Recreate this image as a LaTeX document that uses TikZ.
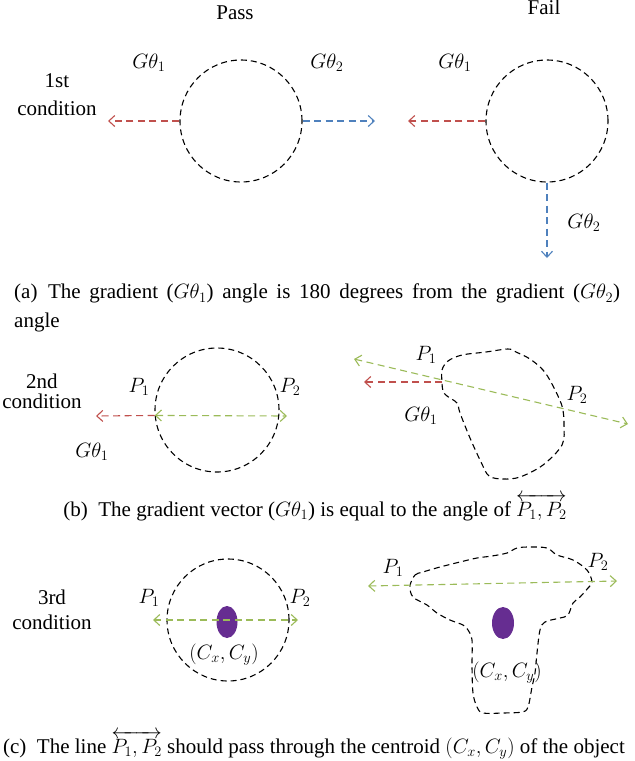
\documentclass[tikz,border=0pt]{standalone}
\usepackage{amsmath}
\usepackage{fontspec}
\setmainfont{Liberation Serif}
\usetikzlibrary{arrows.meta,shapes.geometric}
\definecolor{gred}{HTML}{C0504D}
\definecolor{gblue}{HTML}{4F81BD}
\definecolor{ggreen}{HTML}{9BBB59}
\definecolor{cpurple}{HTML}{662D91}
\tikzset{
  outline/.style={draw=black, dash pattern=on 6pt off 4pt, line width=1.1pt},
  ring/.style={outline, circle, minimum size=122pt, inner sep=0pt},
  vec/.style={dash pattern=on 7pt off 4.5pt, line width=1.1pt, -{Straight Barb[length=6pt,width=11pt]}},
  bivec/.style={vec, {Straight Barb[length=6pt,width=11pt]}-{Straight Barb[length=6pt,width=11pt]}},
  lbl/.style={font=\fontsize{21}{24}\selectfont, inner sep=0pt},
  cond/.style={inner sep=0pt, align=center},
  captext/.style={font=\fontsize{21}{29}\selectfont, inner sep=0pt},
  blob/.style={outline, smooth cycle, tension=0.55},
  centroid/.style={ellipse, fill=cpurple, draw=none, minimum width=21pt, minimum height=32pt, inner sep=0pt}
}
\begin{document}
\begin{tikzpicture}[x=1pt,y=-1pt]
\useasboundingbox (0,0) rectangle (635,761);

% ---------- panel (a)
\node[lbl] (pass) at (235,13) {Pass};
\node[lbl] (fail) at (544,7) {Fail};
\node[cond, font=\fontsize{21}{28}\selectfont] (cond1) at (57,95) {1st\\condition};

\node[ring] (c1) at (241,121) {};
\node[ring] (c2) at (547,121) {};
\coordinate (r1) at (108,121);
\coordinate (b1) at (375,121);
\coordinate (r2) at (408,121);
\coordinate (b2) at (547,258);
\draw[vec, gred] (c1.west) -- (r1);
\draw[vec, gblue] (c1.east) -- (b1);
\draw[vec, gred] (c2.west) -- (r2);
\draw[vec, gblue] (c2.south) -- (b2);
\node[lbl] (ga1) at (149,63) {$G\theta_1$};
\node[lbl] (ga2) at (327,63) {$G\theta_2$};
\node[lbl] (ga3) at (455,63) {$G\theta_1$};
\node[lbl] (ga4) at (584,223) {$G\theta_2$};

\node[captext, anchor=north west, text width=606pt, align=justify] (capa) at (14,284)
  {(a)\enspace The gradient ($G\theta_1$) angle is 180 degrees from the gradient ($G\theta_2$)\linebreak angle};

% ---------- panel (b)
\node[cond, font=\fontsize{21}{20}\selectfont] (cond2) at (42,391) {2nd\\condition};
\node[ring, minimum size=124pt] (c3) at (217,410) {};
\coordinate (q1) at (c3.185);
\coordinate (r3) at (96,416);
\coordinate (g3) at (287,416);
\draw[vec, gred] (q1) -- (r3);
\draw[bivec, ggreen] (q1) -- (g3);
\node[lbl] (pb1) at (139,387) {$P_1$};
\node[lbl] (pb2) at (290,387) {$P_2$};
\node[lbl] (gb1) at (92,452) {$G\theta_1$};

\draw[blob] plot coordinates {(442,382) (442,370) (448,361) (462,355) (486,352) (508,349) (516,352) (530,359) (543,370) (552,384) (562,406) (564,425) (562,445) (543,465) (520,477) (503,479) (489,476) (481,462) (470,438) (460,413) (457,403) (447,396) (443,391)};
\coordinate (bp1) at (442,382);
\coordinate (r4) at (364,382);
\coordinate (gl1) at (354,359);
\coordinate (gl2) at (628,424);
\draw[vec, gred] (bp1) -- (r4);
\draw[bivec, ggreen] (gl1) -- (gl2);
\node[lbl] (pb3) at (426,355) {$P_1$};
\node[lbl] (pb4) at (577,395) {$P_2$};
\node[lbl] (gb2) at (421,416) {$G\theta_1$};

\node[captext, anchor=base] (capb) at (315,516)
  {(b)\enspace The gradient vector ($G\theta_1$) is equal to the angle of $\overleftrightarrow{P_1,P_2}$};

% ---------- panel (c)
\node[cond, font=\fontsize{21}{25}\selectfont] (cond3) at (52,610) {3rd\\condition};
\node[ring] (c4) at (228,620) {};
\node[centroid] (ct1) at (227,622) {};
\coordinate (h1) at (153,620);
\coordinate (h2) at (298,620);
\draw[bivec, ggreen] (h1) -- (h2);
\node[lbl] (pc1) at (149,598) {$P_1$};
\node[lbl] (pc2) at (300,598) {$P_2$};
\node[lbl] (cc1) at (224,655) {$(C_x,C_y)$};

\draw[blob] plot coordinates {(410,586) (415,575) (423,572) (440,567) (460,562) (477,558) (492,556) (507,553) (517,548) (530,547) (547,548) (557,555) (573,560) (587,570) (592,582) (588,588) (580,597) (573,603) (568,615) (560,618) (545,622) (540,630) (537,653) (535,673) (532,687) (528,707) (522,712) (503,713) (483,713) (477,707) (473,693) (472,667) (472,640) (468,630) (463,625) (450,620) (437,613) (427,605) (413,597)};
\node[centroid, minimum width=22pt] (ct2) at (503,623) {};
\coordinate (k1) at (368,586);
\coordinate (k2) at (617,581);
\draw[bivec, ggreen] (k1) -- (k2);
\node[lbl] (pc3) at (393,568) {$P_1$};
\node[lbl] (pc4) at (598,562) {$P_2$};
\node[lbl] (cc2) at (507,673) {$(C_x,C_y)$};

\node[captext, anchor=base] (capc) at (314,753)
  {(c)\enspace The line $\overleftrightarrow{P_1,P_2}$ should pass through the centroid $(C_x,C_y)$ of the object};
\end{tikzpicture}
\end{document}
